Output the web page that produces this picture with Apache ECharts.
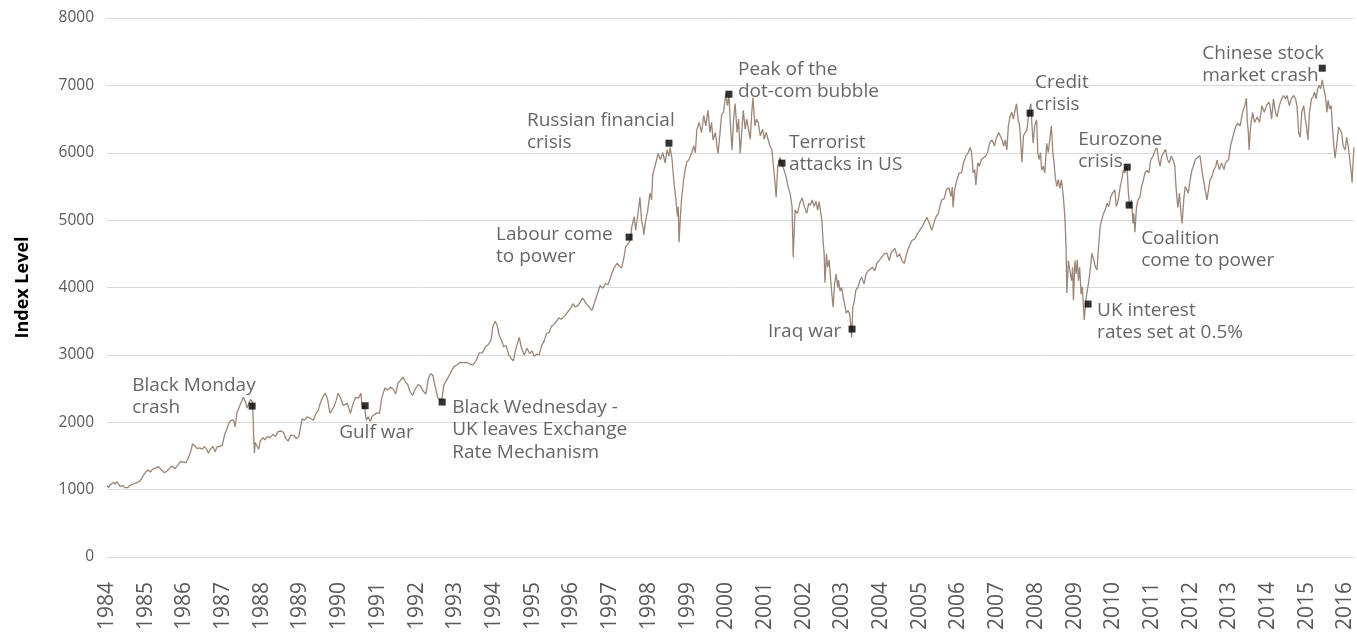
<!DOCTYPE html>
<html>
<head>
<meta charset="utf-8">
<script src="https://cdn.jsdelivr.net/npm/echarts@6/dist/echarts.min.js"></script>
<style>
  html, body { margin: 0; padding: 0; background: #ffffff; }
  #chart { width: 1357px; height: 636px; }
</style>
</head>
<body>
<div id="chart"></div>
<script>
// FTSE 100 index level, [decimal year, value]
const ftse1984to1993 = [
  [1984.00,1060],[1984.04,1030],[1984.08,1070],[1984.13,1050],[1984.17,1110],[1984.21,1080],[1984.25,1120],[1984.29,1090],[1984.33,1050],[1984.38,1030],[1984.42,1060],[1984.46,1030],[1984.50,1010],[1984.54,1030],[1984.58,1060],[1984.67,1080],[1984.71,1060],[1984.75,1100],[1984.79,1090],[1984.83,1120],[1984.88,1150],[1984.92,1170],[1984.96,1230],
  [1985.00,1260],[1985.06,1290],[1985.12,1260],[1985.17,1300],[1985.25,1320],[1985.33,1340],[1985.40,1300],[1985.48,1250],[1985.54,1270],[1985.62,1320],[1985.68,1350],[1985.75,1310],[1985.83,1360],[1985.90,1420],[1985.96,1410],
  [1986.04,1400],[1986.10,1470],[1986.17,1580],[1986.21,1680],[1986.27,1650],[1986.33,1610],[1986.40,1620],[1986.46,1600],[1986.52,1640],[1986.58,1590],[1986.62,1540],[1986.67,1600],[1986.74,1640],[1986.79,1560],[1986.85,1640],[1986.92,1640],[1986.98,1660],
  [1987.04,1820],[1987.10,1900],[1987.15,1990],[1987.21,2030],[1987.27,2030],[1987.31,1930],[1987.36,2150],[1987.42,2230],[1987.48,2310],[1987.52,2370],[1987.58,2300],[1987.62,2210],[1987.67,2290],[1987.71,2340],[1987.76,2300],[1987.79,1800],[1987.81,1540],[1987.83,1700],[1987.88,1640],[1987.92,1600],[1987.96,1720],
  [1988.03,1770],[1988.08,1740],[1988.15,1790],[1988.21,1770],[1988.29,1820],[1988.35,1790],[1988.42,1860],[1988.50,1870],[1988.56,1850],[1988.62,1760],[1988.68,1720],[1988.75,1810],[1988.83,1800],[1988.90,1760],[1988.96,1790],
  [1989.04,2050],[1989.10,2030],[1989.17,2080],[1989.25,2060],[1989.33,2030],[1989.40,2130],[1989.46,2180],[1989.52,2300],[1989.58,2380],[1989.64,2430],[1989.70,2340],[1989.76,2130],[1989.80,2110],[1989.86,2230],[1989.92,2320],[1989.97,2430],
  [1990.03,2370],[1990.10,2250],[1990.15,2230],[1990.21,2280],[1990.29,2130],[1990.36,2280],[1990.42,2370],[1990.50,2360],[1990.56,2430],[1990.60,2200],[1990.65,2250],[1990.70,2030],[1990.75,2080],[1990.80,2010],[1990.85,2090],[1990.92,2120],[1990.98,2140],
  [1991.04,2130],[1991.10,2360],[1991.18,2510],[1991.25,2480],[1991.33,2520],[1991.40,2490],[1991.46,2420],[1991.52,2580],[1991.58,2620],[1991.65,2670],[1991.71,2600],[1991.77,2560],[1991.83,2450],[1991.90,2400],[1991.96,2490],
  [1992.04,2560],[1992.10,2540],[1992.17,2460],[1992.24,2420],[1992.30,2640],[1992.36,2720],[1992.42,2700],[1992.48,2530],[1992.54,2380],[1992.60,2320],[1992.66,2360],[1992.70,2550],[1992.75,2600],[1992.82,2670],[1992.90,2760],[1992.97,2830],
  [1993.04,2850],[1993.12,2890],[1993.21,2880],[1993.30,2890],[1993.38,2860],[1993.46,2850],[1993.54,2920],[1993.62,3030],[1993.70,3030],[1993.78,3120],[1993.85,3150],[1993.92,3220],[1993.97,3420]
];
const ftse1994to2003 = [
  [1994.03,3500],[1994.08,3440],[1994.13,3300],[1994.19,3220],[1994.25,3120],[1994.31,3140],[1994.38,3000],[1994.44,2950],[1994.50,2910],[1994.56,3080],[1994.62,3200],[1994.65,3260],[1994.71,3100],[1994.78,3000],[1994.85,3100],[1994.92,3020],[1994.98,3060],
  [1995.04,2980],[1995.10,3010],[1995.17,3000],[1995.23,3140],[1995.29,3200],[1995.36,3320],[1995.42,3330],[1995.48,3420],[1995.56,3460],[1995.62,3500],[1995.67,3550],[1995.73,3530],[1995.79,3560],[1995.86,3600],[1995.92,3650],[1995.98,3690],
  [1996.04,3760],[1996.10,3710],[1996.17,3730],[1996.25,3810],[1996.30,3840],[1996.38,3760],[1996.46,3710],[1996.53,3660],[1996.60,3780],[1996.67,3900],[1996.74,4030],[1996.81,3990],[1996.88,4060],[1996.94,4040],[1996.99,4110],
  [1997.04,4200],[1997.10,4290],[1997.18,4360],[1997.24,4320],[1997.30,4290],[1997.36,4460],[1997.40,4600],[1997.45,4640],[1997.52,4700],[1997.56,4900],[1997.62,5050],[1997.66,4850],[1997.72,5100],[1997.77,5340],[1997.81,5000],[1997.85,4900],[1997.87,4780],[1997.92,5000],[1997.97,5140],
  [1998.03,5400],[1998.07,5300],[1998.10,5670],[1998.16,5800],[1998.24,5990],[1998.30,5900],[1998.36,6000],[1998.42,5850],[1998.47,6040],[1998.52,5950],[1998.55,6080],[1998.60,5900],[1998.65,5550],[1998.70,5300],[1998.74,5050],[1998.76,5200],[1998.78,4670],[1998.82,5100],[1998.85,5340],[1998.90,5600],[1998.94,5750],[1998.98,5860],
  [1999.04,5900],[1999.10,5990],[1999.16,6100],[1999.20,6000],[1999.24,6340],[1999.30,6450],[1999.36,6300],[1999.42,6550],[1999.47,6400],[1999.53,6630],[1999.58,6300],[1999.62,6450],[1999.66,6190],[1999.72,6300],[1999.76,6100],[1999.79,5990],[1999.84,6300],[1999.88,6560],[1999.93,6600],[1999.99,6880],
  [2000.03,6700],[2000.07,6850],[2000.11,6400],[2000.15,6040],[2000.19,6500],[2000.23,6730],[2000.28,6300],[2000.32,6500],[2000.36,5990],[2000.40,6300],[2000.44,6630],[2000.49,6350],[2000.53,6500],[2000.57,6490],[2000.62,6200],[2000.66,6600],[2000.69,6820],[2000.74,6400],[2000.78,6500],[2000.83,6440],[2000.88,6250],[2000.94,6350],[2000.98,6200],
  [2001.03,6300],[2001.08,6200],[2001.13,6100],[2001.18,6040],[2001.22,5800],[2001.26,5550],[2001.29,5340],[2001.33,5800],[2001.39,5930],[2001.43,5850],[2001.47,5840],[2001.52,5700],[2001.56,5600],[2001.60,5490],[2001.65,5400],[2001.70,5200],[2001.73,4450],[2001.76,4900],[2001.78,5150],[2001.84,5100],[2001.90,5250],[2001.96,5330],
  [2002.02,5200],[2002.08,5100],[2002.13,5250],[2002.17,5220],[2002.22,5300],[2002.27,5200],[2002.32,5280],[2002.36,5150],[2002.40,5270],[2002.44,5250],[2002.47,5000],[2002.50,4700],[2002.53,4500],[2002.55,4070],[2002.59,4500],[2002.62,4300],[2002.66,4410],[2002.70,4100],[2002.73,3900],[2002.76,3710],[2002.80,4050],[2002.84,4200],[2002.88,4000],[2002.90,4110],[2002.94,3950],[2002.98,4000],
  [2003.02,3860],[2003.06,3750],[2003.10,3620],[2003.15,3660],[2003.19,3600],[2003.22,3420],[2003.24,3260],[2003.27,3700],[2003.31,3800],[2003.35,3960],[2003.40,4000],[2003.45,4100],[2003.50,4150],[2003.56,4050],[2003.61,4200],[2003.67,4250],[2003.72,4230],[2003.78,4300],[2003.84,4250],[2003.89,4360],[2003.95,4400]
];
const ftse2004to2016 = [
  [2004.02,4450],[2004.08,4500],[2004.15,4510],[2004.21,4400],[2004.27,4530],[2004.36,4580],[2004.42,4450],[2004.48,4500],[2004.54,4400],[2004.60,4360],[2004.66,4500],[2004.72,4600],[2004.80,4700],[2004.87,4720],[2004.94,4800],
  [2005.00,4850],[2005.06,4900],[2005.13,4980],[2005.19,5040],[2005.25,4950],[2005.31,4850],[2005.35,4930],[2005.42,5050],[2005.48,5100],[2005.54,5250],[2005.57,5300],[2005.63,5320],[2005.69,5450],[2005.75,5480],[2005.81,5350],[2005.84,5490],[2005.86,5190],[2005.90,5450],[2005.96,5600],
  [2006.02,5700],[2006.08,5700],[2006.13,5850],[2006.19,5950],[2006.25,6000],[2006.30,6080],[2006.34,6000],[2006.38,5700],[2006.42,5750],[2006.45,5520],[2006.50,5850],[2006.54,5800],[2006.59,5900],[2006.64,5890],[2006.70,5950],[2006.75,6000],[2006.81,6150],[2006.87,6190],[2006.93,6100],[2006.98,6220],
  [2007.04,6300],[2007.07,6310],[2007.12,6200],[2007.17,6100],[2007.21,6190],[2007.25,6040],[2007.29,6400],[2007.33,6530],[2007.38,6600],[2007.42,6500],[2007.46,6620],[2007.50,6730],[2007.54,6500],[2007.58,6400],[2007.60,6230],[2007.64,5860],[2007.68,6250],[2007.72,6300],[2007.77,6340],[2007.82,6600],[2007.87,6730],[2007.90,6400],[2007.93,6140],[2007.97,6400],
  [2008.02,6490],[2008.05,6000],[2008.08,5900],[2008.12,6000],[2008.15,5740],[2008.19,5800],[2008.23,5700],[2008.28,6140],[2008.32,6000],[2008.36,6200],[2008.40,6400],[2008.44,6000],[2008.47,5850],[2008.50,5640],[2008.54,5500],[2008.58,5600],[2008.62,5470],[2008.66,5600],[2008.70,5400],[2008.73,5200],[2008.75,5040],[2008.78,4600],[2008.80,3920],[2008.84,4400],[2008.88,4410],[2008.92,4100],[2008.95,4300],[2008.97,3810],
  [2009.01,4400],[2009.04,4200],[2009.07,4410],[2009.10,4100],[2009.13,4300],[2009.17,3900],[2009.20,4010],[2009.23,3700],[2009.25,3520],[2009.29,3800],[2009.33,3960],[2009.37,4100],[2009.41,4300],[2009.45,4510],[2009.50,4400],[2009.54,4300],[2009.58,4260],[2009.62,4600],[2009.66,4900],[2009.70,5000],[2009.75,5100],[2009.79,5150],[2009.84,5250],[2009.88,5200],[2009.94,5350],[2009.98,5400],
  [2010.04,5450],[2010.08,5200],[2010.13,5300],[2010.18,5500],[2010.22,5600],[2010.26,5740],[2010.30,5700],[2010.33,5790],[2010.36,5750],[2010.39,5400],[2010.43,5190],[2010.47,5300],[2010.51,4950],[2010.53,5100],[2010.56,4820],[2010.60,5200],[2010.64,5300],[2010.69,5340],[2010.73,5500],[2010.78,5600],[2010.82,5700],[2010.87,5740],[2010.92,5700],[2010.97,5900],
  [2011.03,5950],[2011.08,6040],[2011.13,6070],[2011.17,5900],[2011.21,5800],[2011.25,5950],[2011.29,5960],[2011.35,6050],[2011.40,5900],[2011.45,5850],[2011.50,5950],[2011.55,5890],[2011.59,5800],[2011.62,5500],[2011.65,5300],[2011.67,5190],[2011.71,5400],[2011.75,5100],[2011.78,4950],[2011.82,5300],[2011.86,5500],[2011.90,5490],[2011.94,5400],[2011.98,5570],
  [2012.03,5740],[2012.07,5800],[2012.12,5900],[2012.17,5900],[2012.24,5960],[2012.30,5700],[2012.36,5500],[2012.42,5300],[2012.46,5450],[2012.50,5600],[2012.55,5650],[2012.60,5750],[2012.65,5800],[2012.68,5890],[2012.74,5750],[2012.80,5850],[2012.86,5750],[2012.90,5850],[2012.94,5840],[2012.98,5900],
  [2013.03,6100],[2013.07,6190],[2013.12,6300],[2013.17,6400],[2013.22,6440],[2013.28,6400],[2013.34,6600],[2013.40,6700],[2013.44,6810],[2013.46,6500],[2013.49,6300],[2013.51,6040],[2013.55,6400],[2013.60,6600],[2013.65,6450],[2013.72,6530],[2013.78,6450],[2013.84,6700],[2013.90,6600],[2013.96,6700],
  [2014.02,6750],[2014.05,6700],[2014.09,6500],[2014.14,6800],[2014.19,6600],[2014.23,6530],[2014.29,6700],[2014.35,6800],[2014.40,6850],[2014.45,6800],[2014.49,6850],[2014.55,6700],[2014.60,6800],[2014.66,6850],[2014.71,6800],[2014.75,6680],[2014.79,6300],[2014.83,6230],[2014.87,6600],[2014.92,6700],[2014.96,6500],[2014.99,6400],
  [2015.03,6190],[2015.07,6600],[2015.12,6800],[2015.16,6830],[2015.20,6900],[2015.24,6800],[2015.28,6950],[2015.32,7000],[2015.36,6950],[2015.40,7080],[2015.44,6950],[2015.48,6850],[2015.52,6600],[2015.55,6780],[2015.59,6650],[2015.63,6700],[2015.66,6400],[2015.70,6100],[2015.73,5920],[2015.77,6100],[2015.82,6380],[2015.86,6380],[2015.90,6300],[2015.94,6100],[2015.99,6040],
  [2016.03,6230],[2016.07,6100],[2016.11,5900],[2016.15,5700],[2016.17,5560],[2016.20,5900],[2016.22,6080]
];

// Annotated events
const eventNames = [
  'Black Monday\ncrash', 'Gulf war', 'Black Wednesday -\nUK leaves Exchange\nRate Mechanism',
  'Labour come\nto power', 'Russian financial\ncrisis', 'Peak of the\ndot-com bubble',
  'Terrorist\nattacks in US', 'Iraq war', 'Credit\ncrisis', 'UK interest\nrates set at 0.5%',
  'Eurozone\ncrisis', 'Coalition\ncome to power', 'Chinese stock\nmarket crash'
];
const eventDates  = [1987.75, 1990.67, 1992.66, 1997.49, 1998.52, 2000.07, 2001.44, 2003.25, 2007.85, 2009.35, 2010.36, 2010.41, 2015.40];
const eventValues = [2240, 2245, 2300, 4748, 6142, 6869, 5846, 3383, 6588, 3754, 5786, 5223, 7255];
// label offset of each event's text block (left, top) from its marker
const eventLabelOffset = [
  [-120, -32], [-26, 16], [10, -6],
  [-133, -14], [-142, -34], [9, -36],
  [7, -32], [-84, -9], [5, -42], [9, -5],
  [-49, -39], [12, 22], [-120, -26]
];

const yMin = 0, yMax = 8000, yStep = 1000;
const xMin = 1984, xMax = 2016.22, xStep = 1;

const FONT = "'Open Sans', 'Noto Sans', sans-serif";
const lineData = ftse1984to1993.concat(ftse1994to2003, ftse2004to2016);

const eventData = eventNames.map((name, i) => ({
  name: name,
  value: [eventDates[i], eventValues[i]],
  label: {
    show: true,
    position: 'inside',
    align: 'left',
    verticalAlign: 'top',
    offset: eventLabelOffset[i],
    formatter: '{b}'
  }
}));

const chart = echarts.init(document.getElementById('chart'), null, { renderer: 'canvas' });
chart.setOption({
  animation: false,
  backgroundColor: '#ffffff',
  grid: { left: 107, right: 3, top: 18, bottom: 79, containLabel: false },
  xAxis: {
    type: 'value',
    min: xMin, max: xMax, interval: xStep,
    axisLine: { show: true, lineStyle: { color: '#d9d9d9', width: 1 } },
    axisTick: { show: false },
    splitLine: { show: false },
    axisLabel: {
      rotate: 90,
      margin: 25,
      fontSize: 21,
      color: '#595959',
      fontFamily: FONT,
      formatter: v => (Math.abs(v - Math.round(v)) < 1e-6 ? String(Math.round(v)) : '')
    }
  },
  yAxis: {
    type: 'value',
    min: yMin, max: yMax, interval: yStep,
    name: 'Index Level',
    nameLocation: 'middle',
    nameGap: 75,
    nameTextStyle: { fontSize: 18, fontWeight: 'bold', color: '#000000', fontFamily: FONT },
    axisLine: { show: false },
    axisTick: { show: false },
    splitLine: { show: true, lineStyle: { color: '#d9d9d9', width: 1 } },
    axisLabel: { fontSize: 15.5, color: '#595959', margin: 13, fontFamily: FONT, formatter: v => String(v) }
  },
  series: [
    {
      type: 'line',
      data: lineData,
      showSymbol: false,
      symbol: 'none',
      lineStyle: { color: '#9b8678', width: 1.3 },
      z: 2
    },
    {
      type: 'scatter',
      data: eventData,
      symbol: 'rect',
      symbolSize: 7,
      itemStyle: { color: '#000000' },
      label: {
        show: true,
        fontSize: 19,
        lineHeight: 22.5,
        color: '#404040',
        fontFamily: FONT
      },
      z: 5
    }
  ]
});
</script>
</body>
</html>
